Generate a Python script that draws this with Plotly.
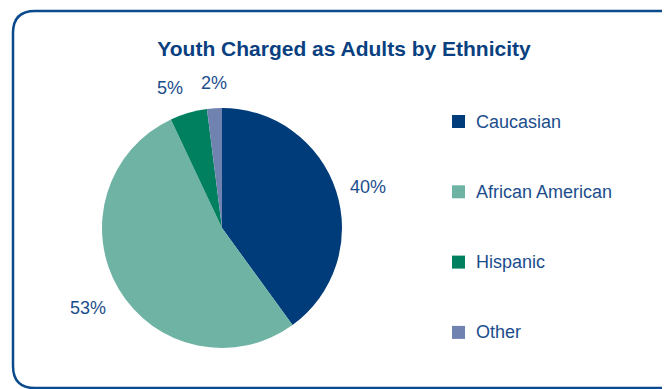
import math
import plotly.graph_objects as go

categories = ["Caucasian", "African American", "Hispanic", "Other"]
values = [40, 53, 5, 2]
colors = ["#003b7a", "#6fb3a5", "#00805f", "#6f82b0"]

W, H = 670, 389
OFF = 8  # default page body margin in the browser
TEXT = "#1b4d8c"
FONT = "Liberation Sans, Arial, sans-serif"

def px(x):
    return (x - OFF) / W

def py(y):
    return 1 - (y - OFF) / H

# pie geometry (page pixels)
CX, CY, R = 222, 228, 120

fig = go.Figure()
fig.add_trace(go.Pie(
    labels=categories,
    values=values,
    sort=False,
    direction="clockwise",
    rotation=0,
    marker=dict(colors=colors, line=dict(width=0)),
    textinfo="none",
    domain=dict(x=[px(CX - R), px(CX + R)], y=[py(CY + R), py(CY - R)]),
    showlegend=False,
    hoverinfo="label+percent",
))

# Rounded frame
x0, y0, x1, y1, r = 13, 11, 690, 388, 22
path = (
    f"M {px(x0)},{py(y0 + r)} "
    f"Q {px(x0)},{py(y0)} {px(x0 + r)},{py(y0)} "
    f"L {px(x1 - r)},{py(y0)} "
    f"Q {px(x1)},{py(y0)} {px(x1)},{py(y0 + r)} "
    f"L {px(x1)},{py(y1 - r)} "
    f"Q {px(x1)},{py(y1)} {px(x1 - r)},{py(y1)} "
    f"L {px(x0 + r)},{py(y1)} "
    f"Q {px(x0)},{py(y1)} {px(x0)},{py(y1 - r)} Z"
)
shapes = [dict(type="path", xref="paper", yref="paper", path=path,
               line=dict(color="#0b4a8c", width=2.5), fillcolor="rgba(0,0,0,0)")]

annotations = []

# percentage labels outside the slices, placed along each slice's bisector
total = sum(values)
cum = 0.0
LR = R + 13
for v in values:
    mid = (cum + v / 2) / total * 2 * math.pi
    cum += v
    s, c = math.sin(mid), math.cos(mid)
    lx, ly = CX + LR * s, CY - LR * c
    xa = "center" if abs(s) < 0.15 else ("left" if s > 0 else "right")
    ya = "bottom" if c > 0.5 else ("top" if c < -0.5 else "middle")
    annotations.append(dict(x=px(lx), y=py(ly), xref="paper", yref="paper",
                            text=f"{round(v / total * 100)}%", showarrow=False,
                            xanchor=xa, yanchor=ya,
                            font=dict(family=FONT, size=18, color=TEXT)))

# legend
for i, (cat, col) in enumerate(zip(categories, colors)):
    cy = 121.5 + 70.3 * i
    shapes.append(dict(type="rect", xref="paper", yref="paper",
                       x0=px(452), x1=px(465), y0=py(cy + 6.5), y1=py(cy - 6.5),
                       fillcolor=col, line=dict(width=0)))
    annotations.append(dict(x=px(474), y=py(cy), xref="paper", yref="paper",
                            text=cat, showarrow=False, xanchor="left", yanchor="middle",
                            font=dict(family=FONT, size=18, color=TEXT)))

fig.update_layout(
    width=W, height=H,
    margin=dict(l=0, r=0, t=0, b=0),
    paper_bgcolor="white",
    plot_bgcolor="white",
    title=dict(text="<b>Youth Charged as Adults by Ethnicity</b>",
               x=px(344), xanchor="center", y=py(49), yanchor="middle",
               xref="container", yref="container",
               font=dict(family=FONT, size=21, color="#0a3f80")),
    shapes=shapes,
    annotations=annotations,
)

fig.write_html("out.html")
